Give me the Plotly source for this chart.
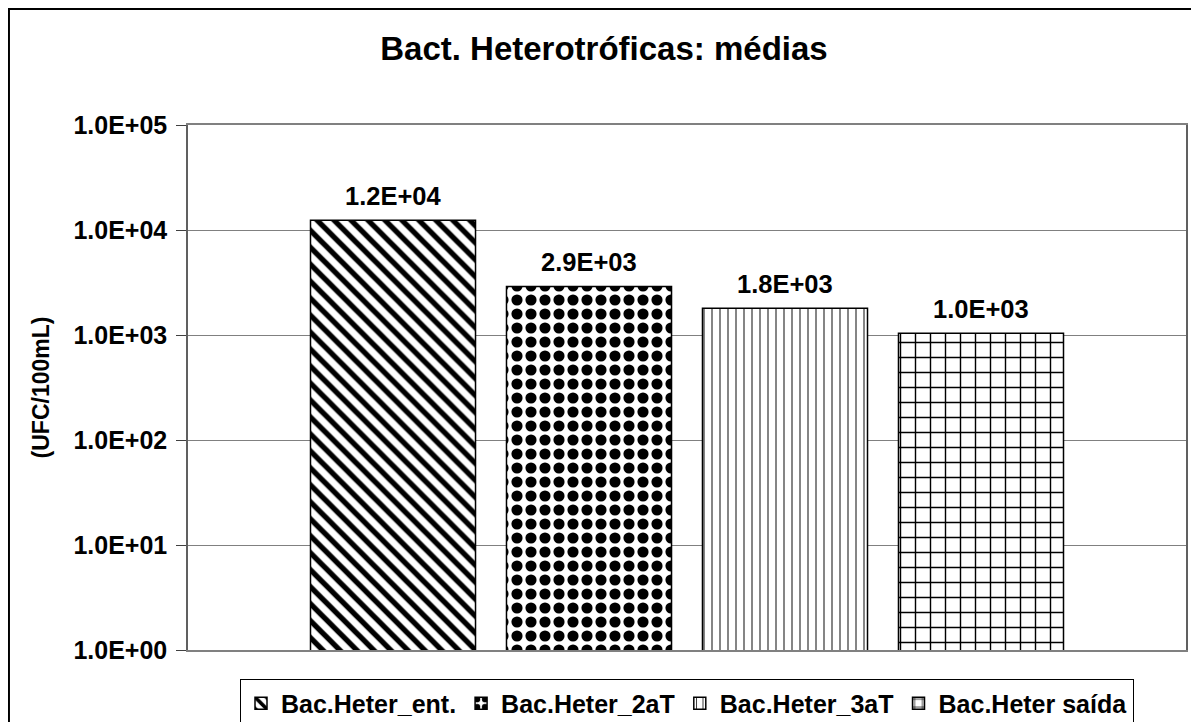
import numpy as np
import plotly.graph_objects as go

series = ["Bac.Heter_ent.", "Bac.Heter_2aT", "Bac.Heter_3aT", "Bac.Heter saída"]
medias = [12400, 2900, 1800, 1040]
padroes = ["\\", ".", "|", "+"]
tam_padrao = [12, 14, 8, 15]
solidez = [0.45, 0.5, 0.12, 0.18]
y_ticks = [1, 10, 100, 1000, 10000, 100000]

FONTE = "Liberation Sans, Arial, sans-serif"

fig = go.Figure()
for nome, v, p, s, sol in zip(series, medias, padroes, tam_padrao, solidez):
    fig.add_trace(go.Bar(
        x=[nome], y=[v], name=nome,
        marker=dict(color="white",
                    line=dict(color="black", width=1.5),
                    pattern=dict(shape=p, size=s, solidity=sol, fgopacity=1,
                                 fgcolor="black", bgcolor="white", fillmode="overlay")),
    ))
    # rotulo de dados acima da barra
    fig.add_annotation(x=nome, y=np.log10(v), text=f"{v:.1E}", showarrow=False,
                       yanchor="bottom", yshift=8,
                       font=dict(family=FONTE, size=25.5, color="black", weight="bold"))

# a pagina html tem margem de 8px no body, por isso 1191x714
fig.update_layout(
    width=1191, height=714,
    margin=dict(l=180, r=13, t=117, b=72, autoexpand=False),
    paper_bgcolor="white", plot_bgcolor="white",
    barmode="overlay", bargap=0.158,
    title=dict(text="Bact. Heterotróficas: médias", x=0.5004, y=0.944,
               xanchor="center", yanchor="middle",
               font=dict(family=FONTE, size=33, color="black", weight="bold")),
    showlegend=True,
    legend=dict(orientation="h", x=0.5, xanchor="center", y=-0.056, yanchor="top",
                bordercolor="black", borderwidth=1, bgcolor="white",
                font=dict(family=FONTE, size=25, color="black", weight="bold"),
                tracegroupgap=0, itemwidth=30),
    shapes=[dict(type="rect", xref="paper", yref="paper",
                 x0=-0.1794, x1=1.012, y0=-0.16, y1=1.221,
                 line=dict(color="black", width=2), fillcolor="rgba(0,0,0,0)", layer="below")],
)
fig.update_xaxes(showticklabels=False, showgrid=False, range=[-1.046, 4.046],
                 showline=True, linecolor="#808080", linewidth=2, mirror=True)
fig.update_yaxes(type="log", range=[0, 5], tickvals=y_ticks,
                 ticktext=[f"{t:.1E}" for t in y_ticks],
                 showgrid=True, gridcolor="#808080", gridwidth=1,
                 ticks="outside", ticklen=10, tickcolor="#404040",
                 ticklabelstandoff=4,
                 showline=True, linecolor="#606060", linewidth=1.5, mirror=True,
                 tickfont=dict(family=FONTE, size=25, color="black", weight="bold"),
                 title=dict(text="(UFC/100mL)", standoff=17,
                            font=dict(family=FONTE, size=23, color="black", weight="bold")))

fig.write_html("out.html")
